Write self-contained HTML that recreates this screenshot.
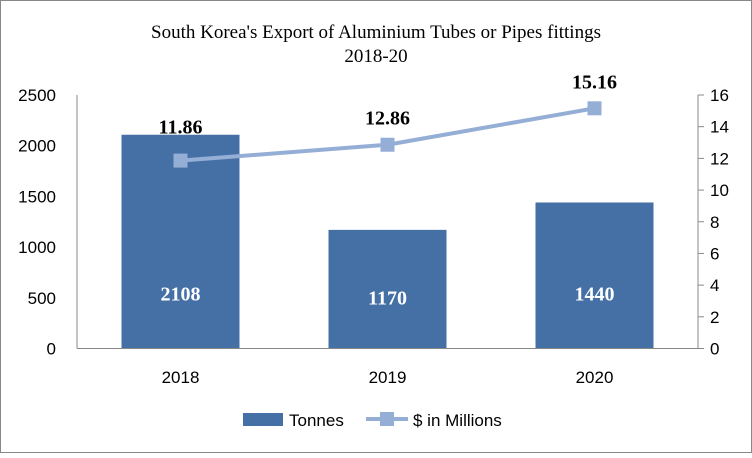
<!DOCTYPE html>
<html><head><meta charset="utf-8"><style>
body{margin:0;background:#fff}
svg text{font-family:"Liberation Sans",sans-serif}
.serif{font-family:"Liberation Serif",serif}
</style></head><body>
<svg width="752" height="453">
<rect x="0.5" y="0.5" width="751" height="452" fill="#fff" stroke="#888"/>
<text x="376" y="38" text-anchor="middle" font-size="19" class="serif">South Korea's Export of Aluminium Tubes or Pipes fittings</text>
<text x="376" y="62" text-anchor="middle" font-size="19" class="serif">2018-20</text>
<g id="plot"></g>
<g>
<rect x="243" y="413" width="40" height="13" fill="#4570a6"/>
<text x="289" y="426" font-size="17">Tonnes</text>
<line x1="366" y1="419" x2="408" y2="419" stroke="#95aed6" stroke-width="4"/>
<rect x="380" y="412" width="14" height="14" fill="#95aed6"/>
<text x="413" y="426" font-size="17">$ in Millions</text>
</g>
</svg>
<script>
const categories=["2018","2019","2020"];
const tonnes=[2108,1170,1440];
const usd=[11.86,12.86,15.16];
const leftTicks=[0,500,1000,1500,2000,2500];
const rightTicks=[0,2,4,6,8,10,12,14,16];
const NS="http://www.w3.org/2000/svg";
const g=document.getElementById("plot");
const X0=77,X1=698,Y0=348.5,Y1=95;
const yL=v=>Y0-(v/2500)*(Y0-Y1);
const yR=v=>Y0-(v/16)*(Y0-Y1);
const band=(X1-X0)/categories.length;
const xc=i=>X0+band*(i+0.5);
function mk(t,a){const e=document.createElementNS(NS,t);for(const k in a)e.setAttribute(k,a[k]);g.appendChild(e);return e;}
leftTicks.forEach(v=>{const t=mk("text",{x:56,y:yL(v)+6,"text-anchor":"end","font-size":17});t.textContent=v;

});
rightTicks.forEach(v=>{const l=mk("line",{x1:X1,x2:X1+6,y1:yR(v),y2:yR(v),stroke:"#888"});


const t=mk("text",{x:X1+12,y:yR(v)+6,"font-size":17});t.textContent=v;

});
categories.forEach((c,i)=>{const h=Y0-yL(tonnes[i]);
const b=mk("rect",{x:xc(i)-59,y:yL(tonnes[i]),width:118,height:h,fill:"#4570a6"});


const t=mk("text",{x:xc(i),y:Math.min(yL(tonnes[i])+h/2+8+ (i==1?8:0),Y0-45)+0,"text-anchor":"middle","font-size":20,"font-weight":"bold",fill:"#fff",class:"serif"});
t.setAttribute("y",Y0-48+(i==1?4:0));t.textContent=tonnes[i];


const x=mk("text",{x:xc(i),y:383,"text-anchor":"middle","font-size":17});x.textContent=c;

});
const axL=mk("line",{x1:X0,x2:X0,y1:Y1,y2:Y0,stroke:"#888"});


const axR=mk("line",{x1:X1,x2:X1,y1:Y1,y2:Y0,stroke:"#888"});


const axB=mk("line",{x1:X0,x2:X1,y1:Y0,y2:Y0,stroke:"#888"});


const pl=mk("polyline",{points:usd.map((v,i)=>xc(i)+","+yR(v)).join(" "),fill:"none",stroke:"#95aed6","stroke-width":4});


usd.forEach((v,i)=>{const m=mk("rect",{x:xc(i)-7,y:yR(v)-7,width:14,height:14,fill:"#95aed6"});


const t=mk("text",{x:xc(i),y:yR(v)-(i==0?27:20),"text-anchor":"middle","font-size":20,"font-weight":"bold",class:"serif"});t.textContent=v.toFixed(2);

});
</script>
</body></html>
